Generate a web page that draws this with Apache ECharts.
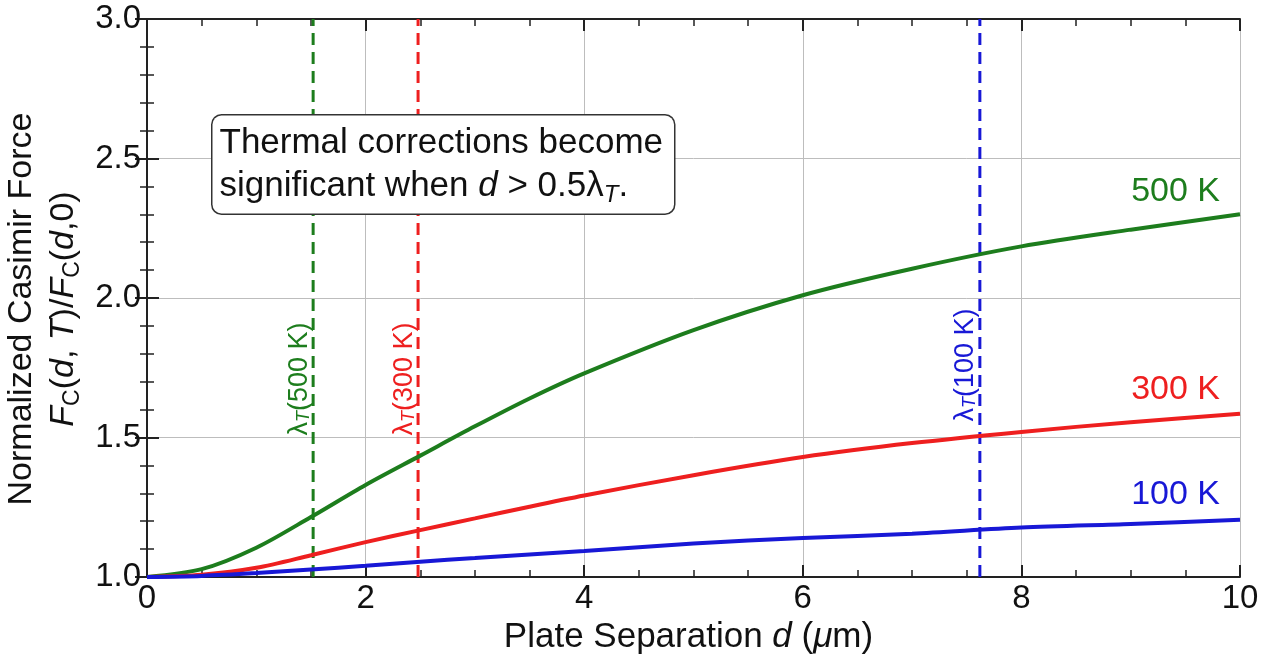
<!DOCTYPE html>
<html>
<head>
<meta charset="utf-8">
<script src="https://cdn.jsdelivr.net/npm/echarts@6/dist/echarts.min.js"></script>
<style>
  html, body { margin: 0; padding: 0; background: #fff; }
  #chart { width: 1272px; height: 662px; }
</style>
</head>
<body>
<div id="chart"></div>
<script>
// plate separation d (um)
const separation = [0, 0.5, 1, 1.5, 2, 2.5, 3, 3.5, 4, 5, 6, 7, 8, 9, 10]
// F_C(d,T)/F_C(d,0)
const force500K = [1.0, 1.028, 1.105, 1.215, 1.33, 1.435, 1.54, 1.64, 1.73, 1.885, 2.01, 2.105, 2.185, 2.245, 2.30]
const force300K = [1.0, 1.008, 1.033, 1.078, 1.125, 1.168, 1.21, 1.252, 1.292, 1.365, 1.43, 1.48, 1.52, 1.555, 1.585]
const force100K = [1.0, 1.004, 1.014, 1.027, 1.04, 1.055, 1.068, 1.081, 1.093, 1.12, 1.14, 1.155, 1.177, 1.19, 1.205]

// thermal wavelength markers
const lambdaNames = ['500 K', '300 K', '100 K']
const lambdaX = [1.52, 2.48, 7.62]
const lambdaLabelY = [1.71, 1.71, 1.76]

// curve end labels
const curveNames = ['500 K', '300 K', '100 K']
const curveLabelY = [2.38, 1.67, 1.295]

const colors = ['#1d7d1d', '#ee1f1f', '#1818d6']
const FONT = '"Liberation Sans", Arial, Helvetica, sans-serif'

const chart = echarts.init(document.getElementById('chart'))

const zip = (xs, ys) => xs.map((x, i) => [x, ys[i]])

const series = []

lambdaX.forEach((x, i) => {
  series.push({
    type: 'line',
    data: [[x, 1.0], [x, 3.0]],
    symbol: 'none',
    silent: true,
    z: 1,
    lineStyle: { color: colors[i], width: 3, type: [12, 7] }
  })
  series.push({
    type: 'scatter',
    data: [[x, lambdaLabelY[i]]],
    symbolSize: 0,
    silent: true,
    itemStyle: { opacity: 1 },
    label: {
      show: true,
      position: 'inside',
      offset: [0, -14],
      rotate: 90,
      opacity: 1,
      color: colors[i],
      fontFamily: FONT,
      fontSize: 27,
      formatter: 'λ{s|T}(' + lambdaNames[i] + ')',
      rich: {
        s: { fontSize: 18, fontStyle: 'italic', color: colors[i], verticalAlign: 'bottom', lineHeight: 18, fontFamily: FONT }
      }
    }
  })
})

const curves = [force500K, force300K, force100K]
curves.forEach((vals, i) => {
  series.push({
    type: 'line',
    data: zip(separation, vals),
    smooth: 0.3,
    symbol: 'none',
    z: 3,
    lineStyle: { color: colors[i], width: 4 }
  })
  series.push({
    type: 'scatter',
    data: [[10, curveLabelY[i]]],
    symbolSize: 0,
    silent: true,
    itemStyle: { opacity: 1 },
    label: {
      show: true,
      position: 'left',
      distance: 20,
      opacity: 1,
      color: colors[i],
      fontFamily: FONT,
      fontSize: 34,
      formatter: curveNames[i]
    }
  })
})

const axisLine = { show: true, lineStyle: { color: '#222', width: 2 } }
const axisTick = { show: true, inside: true, length: 12, lineStyle: { color: '#222', width: 2 } }
const minorTick = { show: true, length: 7, lineStyle: { color: '#222', width: 1.5 } }
const splitLine = { show: true, lineStyle: { color: '#bdbdbd', width: 1 } }

chart.setOption({
  backgroundColor: '#fff',
  animation: false,
  grid: { left: 147, right: 32, top: 19, bottom: 85, outerBoundsMode: 'none', containLabel: false },
  xAxis: [
    {
      type: 'value', min: 0, max: 10, interval: 2,
      axisLine, axisTick,
      minorTick: Object.assign({ splitNumber: 4 }, minorTick),
      splitLine,
      axisLabel: { color: '#111', fontFamily: FONT, fontSize: 33, margin: 5 },
      name: 'Plate Separation {i|d} ({i|μ}m)',
      nameLocation: 'middle',
      nameGap: 42,
      nameTextStyle: {
        color: '#111', fontFamily: FONT, fontSize: 35,
        padding: [0, 10, 0, 0],
        rich: { i: { fontStyle: 'italic', fontSize: 35, fontFamily: FONT, color: '#111' } }
      }
    },
    {
      type: 'value', min: 0, max: 10, interval: 2, position: 'top',
      axisLine, axisTick,
      minorTick: Object.assign({ splitNumber: 4 }, minorTick),
      splitLine: { show: false },
      axisLabel: { show: false }
    }
  ],
  yAxis: [
    {
      type: 'value', min: 1, max: 3, interval: 0.5,
      axisLine, axisTick,
      minorTick: Object.assign({ splitNumber: 5 }, minorTick),
      splitLine,
      axisLabel: {
        color: '#111', fontFamily: FONT, fontSize: 33, margin: 6,
        formatter: v => v.toFixed(1)
      },
      name: 'Normalized Casimir Force\n{i|F}{s|C}({i|d}, {i|T})/{i|F}{s|C}({i|d},0)',
      nameLocation: 'middle',
      nameGap: 54,
      nameTextStyle: {
        color: '#111', fontFamily: FONT, fontSize: 34, lineHeight: 42,
        padding: [0, 22, 0, 0],
        rich: {
          i: { fontStyle: 'italic', fontSize: 34, fontFamily: FONT, color: '#111', lineHeight: 42 },
          s: { fontSize: 23, fontFamily: FONT, color: '#111', verticalAlign: 'bottom', lineHeight: 26 }
        }
      }
    },
    {
      type: 'value', min: 1, max: 3, interval: 0.5, position: 'right',
      axisLine, axisTick,
      minorTick: Object.assign({ splitNumber: 5 }, minorTick),
      splitLine: { show: false },
      axisLabel: { show: false }
    }
  ],
  graphic: [
    {
      type: 'text',
      left: 211,
      top: 114,
      z: 10,
      style: {
        text: 'Thermal corrections become\nsignificant when {i|d} > 0.5λ{s|T}.',
        fontFamily: FONT,
        fontSize: 35,
        lineHeight: 43,
        fill: '#111',
        backgroundColor: '#fff',
        borderColor: '#333',
        borderWidth: 1.5,
        borderRadius: 9,
        padding: [6, 11, 6, 7],
        rich: {
          i: { fontStyle: 'italic', fontSize: 35, fontFamily: FONT, fill: '#111', lineHeight: 43 },
          s: { fontStyle: 'italic', fontSize: 24, fontFamily: FONT, fill: '#111', verticalAlign: 'bottom', lineHeight: 26 }
        }
      }
    }
  ],
  series
})
</script>
</body>
</html>
